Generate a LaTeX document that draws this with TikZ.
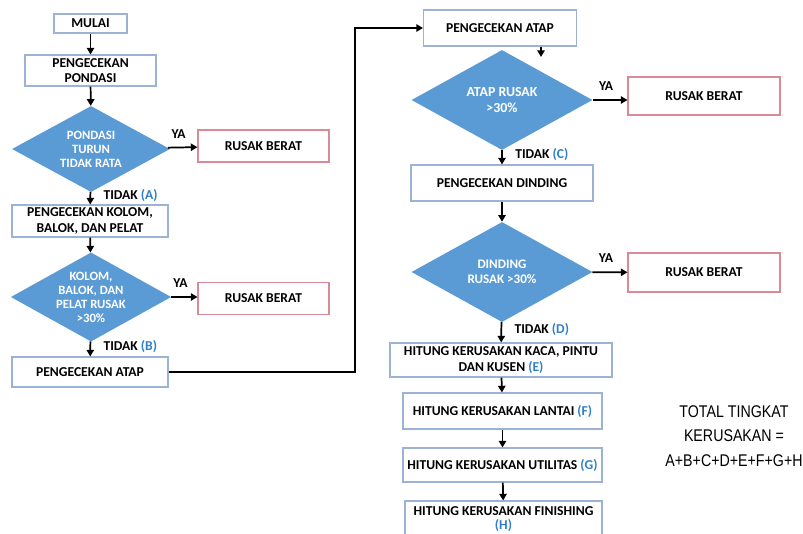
\documentclass[tikz,border=0pt]{standalone}
\usepackage{fontspec}
\setmainfont{Carlito}
\newfontfamily\arialfont[FakeStretch=0.84]{Liberation Sans}
\usetikzlibrary{shapes.geometric,arrows.meta}
\definecolor{boxline}{HTML}{9DB3D6}
\definecolor{redline}{HTML}{D98A95}
\definecolor{diafill}{HTML}{5B9BD5}
\definecolor{letter}{HTML}{2F80C8}
\newcommand{\lt}[1]{{\color{letter}#1}}
\tikzset{
  stepbox/.style={draw=boxline, line width=0.8pt, fill=white, align=center, inner sep=1pt,
    font=\bfseries\fontsize{10.2}{11.5}\selectfont},
  redbox/.style={draw=redline, line width=0.8pt, fill=white, align=center,
    font=\bfseries\fontsize{10.2}{11.5}\selectfont},
  decision/.style={diamond, aspect=1.8, fill=diafill, text=white, align=center, inner sep=0pt,
    font=\bfseries\fontsize{9.5}{10.5}\selectfont},
  arr/.style={-{Triangle[width=5.5pt,length=5pt]}, line width=1.3pt},
  lbl/.style={font=\bfseries\fontsize{10.2}{11}\selectfont}
}
\begin{document}
\begin{tikzpicture}[x=0.75pt, y=-0.75pt]
    \clip (0,0) rectangle (803,533);
    \fill[white] (0,0) rectangle (803,533);
    % left column
    \node[stepbox, minimum width=54.75pt, minimum height=14.25pt] (mulai) at (90.5,23.5) {MULAI};
    \node[stepbox, minimum width=98.25pt, minimum height=23.25pt] (pondasi) at (90.5,70.5) {PENGECEKAN\\PONDASI};
    \node[decision, minimum width=118.5pt, minimum height=64.5pt] (d1) at (91,149) {PONDASI\\TURUN\\TIDAK RATA};
    \node[redbox, minimum width=98.25pt, minimum height=24pt] (rb1) at (263.5,146) {RUSAK BERAT};
    \node[stepbox, minimum width=117pt, minimum height=24pt] (kolom) at (90,221) {PENGECEKAN KOLOM,\\BALOK, DAN PELAT};
    \node[decision, minimum width=118.5pt, minimum height=63.75pt] (d2) at (91,297) {KOLOM,\\BALOK, DAN\\PELAT RUSAK\\>30\%};
    \node[redbox, minimum width=98.25pt, minimum height=24pt] (rb2) at (263.5,298.5) {RUSAK BERAT};
    \node[stepbox, minimum width=117pt, minimum height=22.5pt] (atap1) at (90,372) {PENGECEKAN ATAP};
    % right column
    \node[stepbox, minimum width=114.75pt, minimum height=27pt] (atap2) at (500,28) {PENGECEKAN ATAP};
    \node[decision, font=\bfseries\fontsize{10.4}{11.5}\selectfont, minimum width=135.75pt, minimum height=75pt] (d3) at (502,100) {ATAP RUSAK\\>30\%};
    \node[redbox, minimum width=114pt, minimum height=28.5pt] (rb3) at (704,96) {RUSAK BERAT};
    \node[stepbox, minimum width=136.5pt, minimum height=27pt] (dinding) at (502,183) {PENGECEKAN DINDING};
    \node[decision, font=\bfseries\fontsize{9.8}{11.5}\selectfont, minimum width=135.75pt, minimum height=75pt] (d4) at (502,272) {DINDING\\RUSAK >30\%};
    \node[redbox, minimum width=114pt, minimum height=29.25pt] (rb4) at (704,272.5) {RUSAK BERAT};
    \node[stepbox, minimum width=166.5pt, minimum height=25.5pt] (kaca) at (501,360) {HITUNG KERUSAKAN KACA, PINTU\\DAN KUSEN \lt{(E)}};
    \node[stepbox, minimum width=149.25pt, minimum height=27pt] (lantai) at (502.5,411) {HITUNG KERUSAKAN LANTAI \lt{(F)}};
    \node[stepbox, minimum width=149.25pt, minimum height=25.5pt] (utilitas) at (502.5,465) {HITUNG KERUSAKAN UTILITAS \lt{(G)}};
    \node[stepbox, font=\bfseries\fontsize{10.2}{10.5}\selectfont, minimum width=147.75pt, minimum height=27pt] (finishing) at (503.5,519) {HITUNG KERUSAKAN FINISHING\\\lt{(H)}};
    \node[align=center, font=\arialfont\fontsize{12.7}{18.5}\selectfont] (total) at (734,436) {TOTAL TINGKAT\\KERUSAKAN =\\A+B+C+D+E+F+G+H};
    % connectors
    \coordinate (c3) at (541,57);
    \draw[arr] (mulai) -- (pondasi);
    \draw[arr] (pondasi) -- (d1);
    \draw[arr] (d1) -- (rb1) node[lbl, midway, above=3pt, xshift=-3pt] {YA};
    \draw[arr] (d1) -- (kolom) node[lbl, midway, right=6pt, yshift=2pt] {TIDAK \lt{(A)}};
    \draw[arr] (kolom) -- (d2);
    \draw[arr] (d2.east) -- (d2.east -| rb2.west) node[lbl, midway, above=3pt, xshift=-3pt] {YA};
    \draw[arr] (d2) -- (atap1) node[lbl, midway, right=6pt, yshift=2pt] {TIDAK \lt{(B)}};
    \draw[arr, line width=2.2pt] (atap1.east) -| ([xshift=-51pt]atap2.west) -- (atap2.west);
    \draw[arr] (atap2.south -| c3) -- (c3);
    \draw[arr] (d3.east) -- (d3.east -| rb3.west) node[lbl, midway, above=3pt, xshift=-3pt] {YA};
    \draw[arr] (d3) -- (dinding) node[lbl, midway, right=6pt, yshift=2pt] {TIDAK \lt{(C)}};
    \draw[arr] (dinding) -- (d4);
    \draw[arr] (d4) -- (rb4) node[lbl, midway, above=3pt, xshift=-3pt] {YA};
    \draw[arr] (d4) -- (kaca) node[lbl, midway, right=6pt, yshift=2pt] {TIDAK \lt{(D)}};
    \draw[arr] (kaca) -- (lantai);
    \draw[arr] (lantai) -- (utilitas);
    \draw[arr] (utilitas) -- (finishing);
\end{tikzpicture}
\end{document}
